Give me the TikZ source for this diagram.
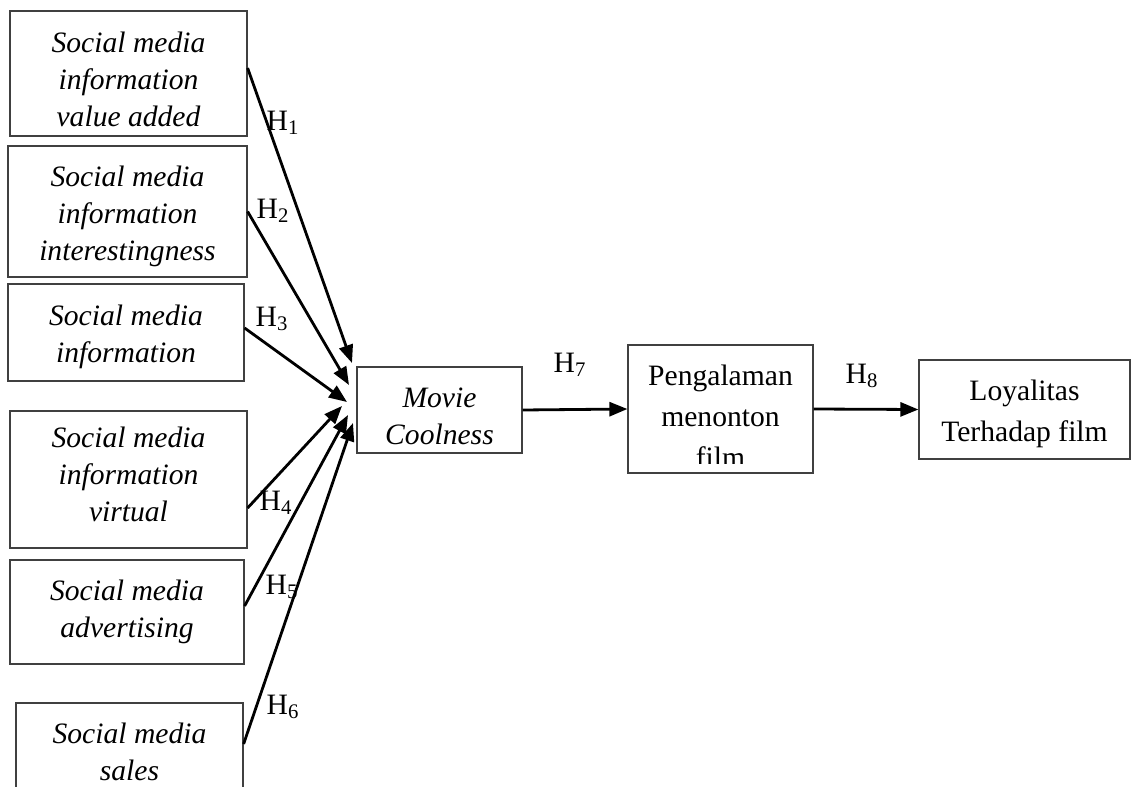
\documentclass[tikz,border=0pt]{standalone}
\usepackage{fontspec}
\setmainfont{Liberation Serif}
\usetikzlibrary{arrows.meta}
\begin{document}
\begin{tikzpicture}[x=0.5pt,y=-0.5pt,
 box/.style={draw=black!75,line width=0.6pt,rectangle,inner sep=0pt},
 itxt/.style={inner sep=0pt,align=center,font=\fontsize{14.8}{18.4}\selectfont\itshape},
 rtxt/.style={inner sep=0pt,align=center,font=\fontsize{14.8}{20.5}\selectfont},
 arr/.style={line width=1.4pt,-{Triangle[length=9pt,width=7pt]}},
 hlab/.style={font=\fontsize{14.8}{17}\selectfont,inner sep=0pt}]
\useasboundingbox (0,0) rectangle (1132,787);
\clip (0,0) rectangle (1132,787);
% left boxes
\node[box,minimum width=118.5pt,minimum height=62.5pt] (b1) at (128.5,73.5) {};
\node[itxt] (b1t) at (128.5,79.5) {Social media\\information\\value added};
\node[box,minimum width=119.5pt,minimum height=65.5pt] (b2) at (127.5,211.5) {};
\node[itxt] (b2t) at (127.5,216.5) {Social media\\information\\interestingness};
\node[box,minimum width=118pt,minimum height=48.5pt] (b3) at (126,332.5) {};
\node[itxt] (b3t) at (126,336.5) {Social media\\information};
\node[box,minimum width=118.5pt,minimum height=68.5pt] (b4) at (128.5,479.5) {};
\node[itxt] (b4t) at (128.5,474.5) {Social media\\information\\virtual};
\node[box,minimum width=117pt,minimum height=52pt] (b5) at (127,612) {};
\node[itxt] (b5t) at (127,612) {Social media\\advertising};
\node[box,minimum width=113.5pt,minimum height=48.5pt] (b6) at (129.5,751.5) {};
\node[itxt] (b6t) at (129.5,751.5) {Social media\\sales};
% middle and right boxes
\node[box,minimum width=82.5pt,minimum height=43pt] (mc) at (439.5,410) {};
\node[itxt] (mct) at (439.5,416) {Movie\\Coolness};
\node[box,minimum width=92.5pt,minimum height=64pt] (pg) at (720.5,409) {};
\begin{scope}
\clip (628,345) rectangle (813,463);
\node[rtxt] (pgt) at (720.5,416) {Pengalaman\\menonton\\film};
\end{scope}
\node[box,minimum width=105.5pt,minimum height=49.5pt] (ly) at (1024.5,409.5) {};
\node[rtxt] (lyt) at (1024.5,413.5) {Loyalitas\\Terhadap film};
% arrow tips
\coordinate (t1) at (352,363);
\coordinate (t2) at (349,385);
\coordinate (t3) at (347,402);
\coordinate (t4) at (342,406);
\coordinate (t5) at (348,415);
\coordinate (t6) at (353,423);
\draw[arr] ([yshift=2.75pt]b1.east) -- (t1);
\draw[arr] (b2.east) -- (t2);
\draw[arr] ([yshift=2.25pt]b3.east) -- (t3);
\draw[arr] ([yshift=-14.25pt]b4.east) -- (t4);
\draw[arr] ([yshift=3pt]b5.east) -- (t5);
\draw[arr] ([yshift=3.75pt]b6.east) -- (t6);
\draw[arr] (mc.east) -- (pg.west);
\draw[arr] (pg.east) -- (ly.west);
% labels
\node[hlab] (h1) at (283,123) {H\textsubscript{1}};
\node[hlab] (h2) at (273,211) {H\textsubscript{2}};
\node[hlab] (h3) at (272,319) {H\textsubscript{3}};
\node[hlab] (h4) at (276,503) {H\textsubscript{4}};
\node[hlab] (h5) at (282,587) {H\textsubscript{5}};
\node[hlab] (h6) at (283,707) {H\textsubscript{6}};
\node[hlab] (h7) at (570,365) {H\textsubscript{7}};
\node[hlab] (h8) at (862,376) {H\textsubscript{8}};
\end{tikzpicture}
\end{document}
